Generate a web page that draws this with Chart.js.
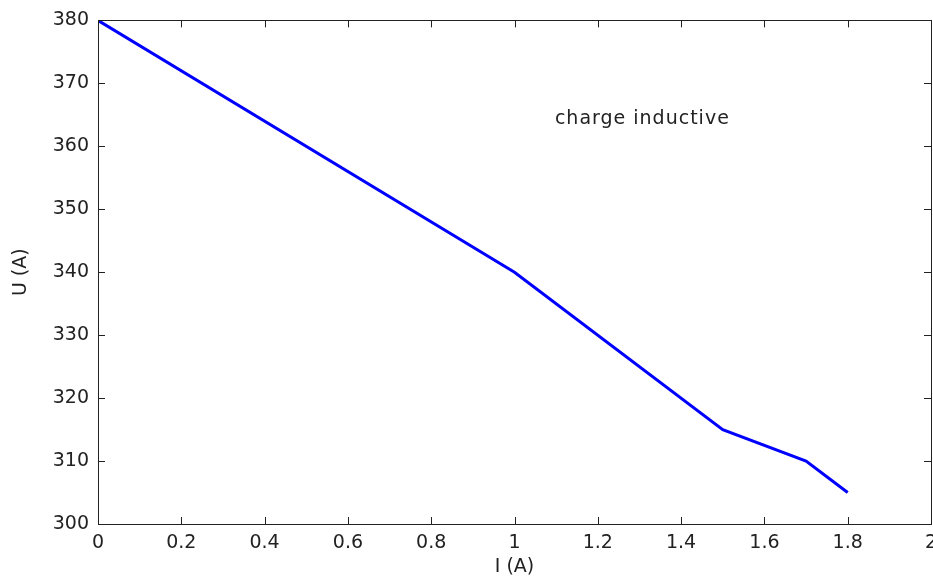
<!DOCTYPE html>
<html>
<head>
<meta charset="utf-8">
<script src="https://cdn.jsdelivr.net/npm/chart.js@4"></script>
<style>
  html, body { margin: 0; padding: 0; background: #fff; overflow: hidden; }
  #wrap { width: 933px; height: 578px; overflow: hidden; }
  canvas { display: block; }
</style>
</head>
<body>
<div id="wrap"><canvas id="chart" width="946" height="578"></canvas></div>
<script>
// current I (A) and voltage U
const currentI = [0, 1.0, 1.5, 1.7, 1.8];
const voltageU = [380, 340, 315, 310, 305];

const xTicks = [0, 0.2, 0.4, 0.6, 0.8, 1, 1.2, 1.4, 1.6, 1.8, 2];
const yTicks = [300, 310, 320, 330, 340, 350, 360, 370, 380];

const noteText = 'charge inductive';
const notePos = { x: 1.097, y: 363.5 };

const FONT = '"DejaVu Sans", sans-serif';
const INK = '#222';

// box around plot + inward tick marks on all four sides (matlab style)
const boxPlugin = {
  id: 'boxTicks',
  afterDraw(chart) {
    const { ctx, chartArea: a, scales } = chart;
    const len = 7;
    ctx.save();
    ctx.strokeStyle = INK;
    ctx.lineWidth = 1;
    ctx.beginPath();
    xTicks.forEach(v => {
      const px = Math.round(scales.x.getPixelForValue(v)) + 0.5;
      ctx.moveTo(px, a.bottom); ctx.lineTo(px, a.bottom - len);
      ctx.moveTo(px, a.top); ctx.lineTo(px, a.top + len);
    });
    yTicks.forEach(v => {
      const py = Math.round(scales.y.getPixelForValue(v)) + 0.5;
      ctx.moveTo(a.left, py); ctx.lineTo(a.left + len, py);
      ctx.moveTo(a.right, py); ctx.lineTo(a.right - len, py);
    });
    ctx.stroke();
    ctx.strokeRect(Math.round(a.left) + 0.5, Math.round(a.top) + 0.5,
      Math.round(a.right - a.left), Math.round(a.bottom - a.top));
    // annotation
    ctx.fillStyle = INK;
    ctx.font = '19px ' + FONT;
    if ('letterSpacing' in ctx) ctx.letterSpacing = '1px';
    ctx.textAlign = 'left';
    ctx.textBaseline = 'alphabetic';
    ctx.fillText(noteText, scales.x.getPixelForValue(notePos.x), scales.y.getPixelForValue(notePos.y));
    ctx.restore();
  }
};

new Chart(document.getElementById('chart').getContext('2d'), {
  type: 'scatter',
  data: {
    datasets: [{
      data: currentI.map((x, i) => ({ x: x, y: voltageU[i] })),
      showLine: true,
      borderColor: '#0000ff',
      backgroundColor: '#0000ff',
      borderWidth: 3,
      pointRadius: 0,
      tension: 0
    }]
  },
  options: {
    responsive: false,
    animation: false,
    devicePixelRatio: 1,
    layout: { padding: { top: 19, right: 15, bottom: 0, left: 0 } },
    plugins: { legend: { display: false }, tooltip: { enabled: false } },
    scales: {
      x: {
        type: 'linear', min: 0, max: 2,
        afterBuildTicks: s => { s.ticks = xTicks.map(v => ({ value: v })); },
        afterFit: s => { s.height = 54; },
        grid: { display: false, drawTicks: false },
        border: { display: false },
        ticks: { color: INK, font: { family: FONT, size: 19 }, padding: 8, maxRotation: 0, autoSkip: false,
          callback: v => String(v) },
        title: { display: true, text: 'I (A)', color: INK, font: { family: FONT, size: 19 }, padding: { top: 0, bottom: 0 } }
      },
      y: {
        type: 'linear', min: 300, max: 380,
        afterBuildTicks: s => { s.ticks = yTicks.map(v => ({ value: v })); },
        afterFit: s => { s.width = 98; },
        grid: { display: false, drawTicks: false },
        border: { display: false },
        ticks: { color: INK, font: { family: FONT, size: 19 }, padding: 9, autoSkip: false },
        title: { display: true, text: 'U (A)', color: INK, font: { family: FONT, size: 19 }, padding: { top: 10, bottom: 0 } }
      }
    }
  },
  plugins: [boxPlugin]
});
</script>
</body>
</html>
